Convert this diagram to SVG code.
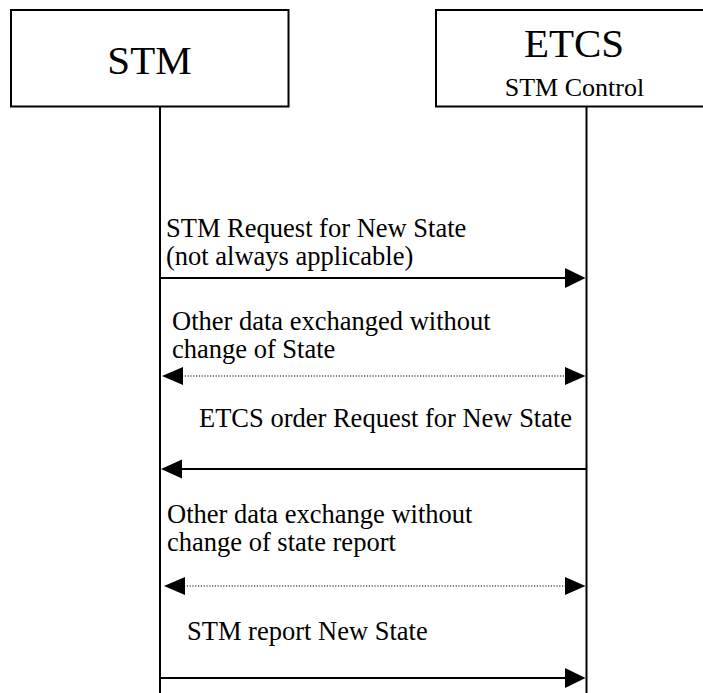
<svg xmlns="http://www.w3.org/2000/svg" width="703" height="693" viewBox="0 0 703 693">
  <style>
    .box { fill: #fff; stroke: #000; stroke-width: 2; }
    .life { stroke: #000; stroke-width: 2; fill: none; }
    .msg { stroke: #000; stroke-width: 2; fill: none; }
    .dot { stroke: #000; stroke-width: 1.2; stroke-dasharray: 1.2 1.6; fill: none; }
    .head { fill: #000; stroke: none; }
    text { font-family: "Liberation Serif", "Times New Roman", serif; fill: #000; }
    .title { font-size: 41px; text-anchor: middle; }
    .sub { font-size: 26px; text-anchor: middle; }
    .lbl { font-size: 26.5px; }
  </style>
  <rect width="703" height="693" fill="#fff"/>

  <g id="stm">
    <rect class="box" x="11" y="10" width="277.5" height="96.5"/>
    <text class="title" x="149.5" y="74">STM</text>
  </g>

  <g id="etcs">
    <!-- box runs past the right edge of the sheet -->
    <rect class="box" x="436" y="10" width="280" height="96.5"/>
    <text class="title" x="574" y="57">ETCS</text>
    <text class="sub" x="574.5" y="96">STM Control</text>
  </g>

  <g id="connectors">
    <!-- lifelines -->
    <line class="life" x1="160" y1="106.5" x2="160" y2="693"/>
    <line class="life" x1="586.5" y1="106.5" x2="586.5" y2="693"/>

    <!-- STM request for new state -->
    <line class="msg" x1="161" y1="278" x2="566" y2="278"/>
    <polygon class="head" points="585.5,278 565,268 565,288"/>

    <!-- other data exchanged (both ways) -->
    <line class="dot" x1="182" y1="376" x2="566" y2="376"/>
    <polygon class="head" points="162,376 183,367 183,385"/>
    <polygon class="head" points="585.5,376 565,367 565,385"/>

    <!-- ETCS order request for new state -->
    <line class="msg" x1="181" y1="469" x2="586" y2="469"/>
    <polygon class="head" points="161,469 182,459.5 182,478.5"/>

    <!-- other data exchange (both ways) -->
    <line class="dot" x1="184" y1="586" x2="566" y2="586"/>
    <polygon class="head" points="164,586 185,577 185,595"/>
    <polygon class="head" points="585.5,586 565,577 565,595"/>

    <!-- STM report new state -->
    <line class="msg" x1="161" y1="678" x2="566" y2="678"/>
    <polygon class="head" points="585.5,678 565,668 565,688"/>
  </g>

  <g id="labels">
    <text class="lbl" x="166" y="237">STM Request for New State</text>
    <text class="lbl" x="166" y="265">(not always applicable)</text>
    <text class="lbl" x="172" y="330">Other data exchanged without</text>
    <text class="lbl" x="172" y="358">change of State</text>
    <text class="lbl" x="199" y="427">ETCS order Request for New State</text>
    <text class="lbl" x="167" y="523">Other data exchange without</text>
    <text class="lbl" x="167" y="551">change of state report</text>
    <text class="lbl" x="187" y="640">STM report New State</text>
  </g>
</svg>
